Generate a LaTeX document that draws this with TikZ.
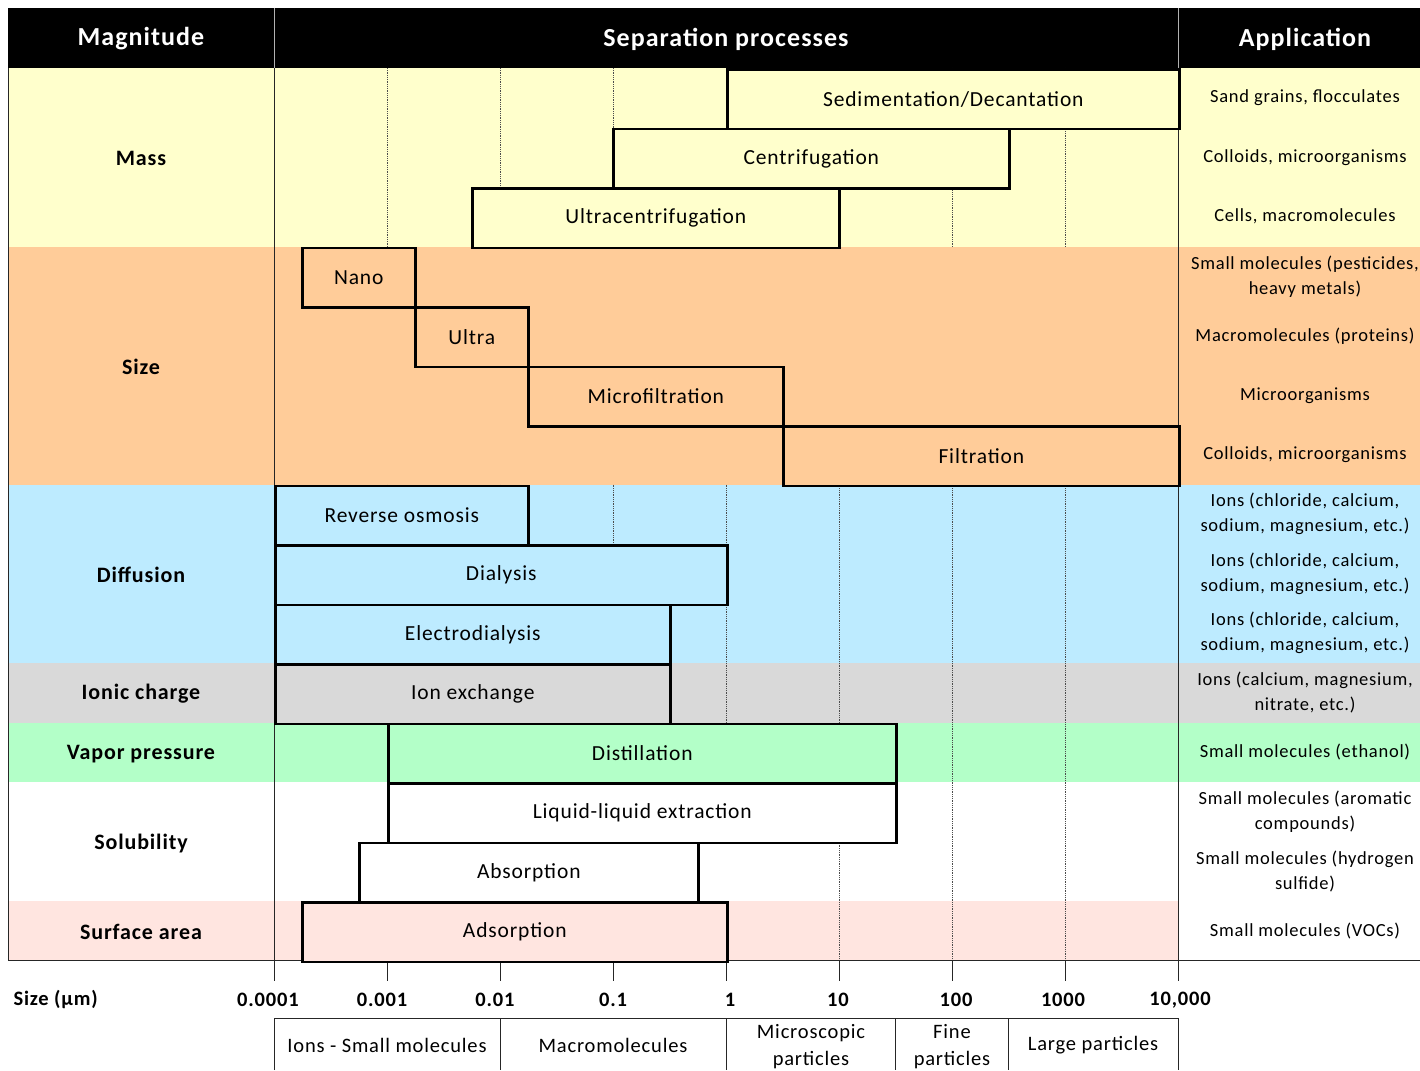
\documentclass[tikz,border=0pt]{standalone}
\usepackage{fontspec}
\setmainfont{Carlito}[LetterSpace=4]
\definecolor{cmass}{HTML}{FFFFCC}
\definecolor{csize}{HTML}{FFCC99}
\definecolor{cdiff}{HTML}{BDEBFF}
\definecolor{cion}{HTML}{D9D9D9}
\definecolor{cvap}{HTML}{B3FFC8}
\definecolor{csurf}{HTML}{FFE5E0}
\tikzset{
  pbox/.style={draw=black, line width=2.6pt, inner sep=0pt, anchor=north west,
    minimum height=59.5pt, font=\fontsize{21.5}{24}\selectfont},
  app/.style={align=center, font=\fontsize{18.5}{25}\selectfont},
  mag/.style={font=\bfseries\fontsize{22}{26}\selectfont},
  hdr/.style={text=white, font=\bfseries\fontsize{26}{30}\selectfont},
  axlab/.style={font=\bfseries\fontsize{20.5}{24}\selectfont},
  cat/.style={align=center, font=\fontsize{20.5}{27}\selectfont},
  gridline/.style={densely dotted, line width=0.8pt, black!70},
  thinline/.style={line width=0.9pt, black!85},
  hsep/.style={line width=1pt, black!30}
}
\newcommand\pbx[6]{\node[pbox, fill=#5, minimum width={#3-#2}] (#1) at (#2,{68+59.5*#4}) {#6};}
\newcommand\apptext[3]{\node[app] (#1) at (1305,{68+59.5*#2+29.75}) {#3};}
\begin{document}
\begin{tikzpicture}[x=1pt,y=-1pt]
\useasboundingbox (0,0) rectangle (1420,1070);
\clip (0,0) rectangle (1420,1070);
% header
\fill[black] (8,8) rectangle (1420,68);
\draw[hsep] (274,8) -- (274,68) (1178,8) -- (1178,68);
\node[hdr] (hmag) at (141,39) {Magnitude};
\node[hdr] (hsep) at (726,39) {Separation processes};
\node[hdr] (happ) at (1305,39) {Application};
% row bands
\fill[cmass] (8,68) rectangle (1420,246.5);
\fill[csize] (8,246.5) rectangle (1420,484.5);
\fill[cdiff] (8,484.5) rectangle (1420,663);
\fill[cion] (8,663) rectangle (1420,722.5);
\fill[cvap] (8,722.5) rectangle (1420,782);
\fill[white] (8,782) rectangle (1420,901);
\fill[csurf] (8,901) rectangle (1178,960.5);
% dotted decade lines
\foreach \x in {387,500,613,839,952,1065}{
  \draw[gridline] (\x,68) -- (\x,246.5);
  \draw[gridline] (\x,484.5) -- (\x,960.5);
}
\draw[gridline] (726,68) -- (726,246.5);
\draw[gridline] (726,484.5) -- (726,841.5);
\draw[gridline] (726,901) -- (726,960.5);
% frame lines
\draw[thinline] (8,68) -- (8,960.5);
\draw[thinline] (274,68) -- (274,981);
\draw[thinline] (1178,68) -- (1178,981);
\draw[thinline] (8,960.5) -- (1420,960.5);
\foreach \x in {387,500,613,726,839,952,1065}{
  \draw[thinline] (\x,960.5) -- (\x,981);
}
% process boxes
\pbx{sed}{726}{1178}{0}{cmass}{Sedimentation/Decantation}
\pbx{cent}{612}{1008}{1}{cmass}{Centrifugation}
\pbx{ucent}{471}{838}{2}{cmass}{Ultracentrifugation}
\pbx{nano}{301}{414}{3}{csize}{Nano}
\pbx{ultra}{414}{527}{4}{csize}{Ultra}
\pbx{micro}{527}{782}{5}{csize}{Microfiltration}
\pbx{filt}{782}{1178}{6}{csize}{Filtration}
\pbx{ro}{274}{527}{7}{cdiff}{Reverse osmosis}
\pbx{dial}{274}{726}{8}{cdiff}{Dialysis}
\pbx{edial}{274}{669}{9}{cdiff}{Electrodialysis}
\pbx{ionx}{274}{669}{10}{cion}{Ion exchange}
\pbx{dist}{387}{895}{11}{cvap}{Distillation}
\pbx{lle}{387}{895}{12}{white}{Liquid-liquid extraction}
\pbx{abso}{358}{697}{13}{white}{Absorption}
\pbx{adso}{301}{726}{14}{csurf}{Adsorption}
% magnitude labels
\node[mag] (lmass) at (141,158) {Mass};
\node[mag] (lsize) at (141,367) {Size};
\node[mag] (ldiff) at (141,575) {Diffusion};
\node[mag] (lion) at (141,694) {Ionic charge};
\node[mag] (lvap) at (141,754) {Vapor pressure};
\node[mag] (lsol) at (141,843) {Solubility};
\node[mag] (lsurf) at (141,932) {Surface area};
% applications
\apptext{a0}{0}{Sand grains, flocculates}
\apptext{a1}{1}{Colloids, microorganisms}
\apptext{a2}{2}{Cells, macromolecules}
\apptext{a3}{3}{Small molecules (pesticides,\\heavy metals)}
\apptext{a4}{4}{Macromolecules (proteins)}
\apptext{a5}{5}{Microorganisms}
\apptext{a6}{6}{Colloids, microorganisms}
\apptext{a7}{7}{Ions (chloride, calcium,\\sodium, magnesium, etc.)}
\apptext{a8}{8}{Ions (chloride, calcium,\\sodium, magnesium, etc.)}
\apptext{a9}{9}{Ions (chloride, calcium,\\sodium, magnesium, etc.)}
\apptext{a10}{10}{Ions (calcium, magnesium,\\nitrate, etc.)}
\apptext{a11}{11}{Small molecules (ethanol)}
\apptext{a12}{12}{Small molecules (aromatic\\compounds)}
\apptext{a13}{13}{Small molecules (hydrogen\\sulfide)}
\apptext{a14}{14}{Small molecules (VOCs)}
% axis labels
\node[axlab, anchor=west] (sizelab) at (10,999) {Size (µm)};
\node[axlab] (t0) at (268,1000) {0.0001};
\node[axlab] (t1) at (382,1000) {0.001};
\node[axlab] (t2) at (495,1000) {0.01};
\node[axlab] (t3) at (613,1000) {0.1};
\node[axlab] (t4) at (730,1000) {1};
\node[axlab] (t5) at (838,1000) {10};
\node[axlab] (t6) at (956,1000) {100};
\node[axlab] (t7) at (1063,1000) {1000};
\node[axlab] (t8) at (1180,1000) {10,000};
% category boxes
\draw[thinline] (274,1070) -- (274,1018) -- (1178,1018) -- (1178,1070);
\foreach \x in {500,726,895,1008}{\draw[thinline] (\x,1018) -- (\x,1070);}
\node[cat] (c1) at (387,1045) {Ions - Small molecules};
\node[cat] (c2) at (613,1045) {Macromolecules};
\node[cat] (c3) at (811,1047) {Microscopic\\particles};
\node[cat] (c4) at (952,1047) {Fine\\particles};
\node[cat] (c5) at (1093,1045) {Large particles};
\end{tikzpicture}
\end{document}
